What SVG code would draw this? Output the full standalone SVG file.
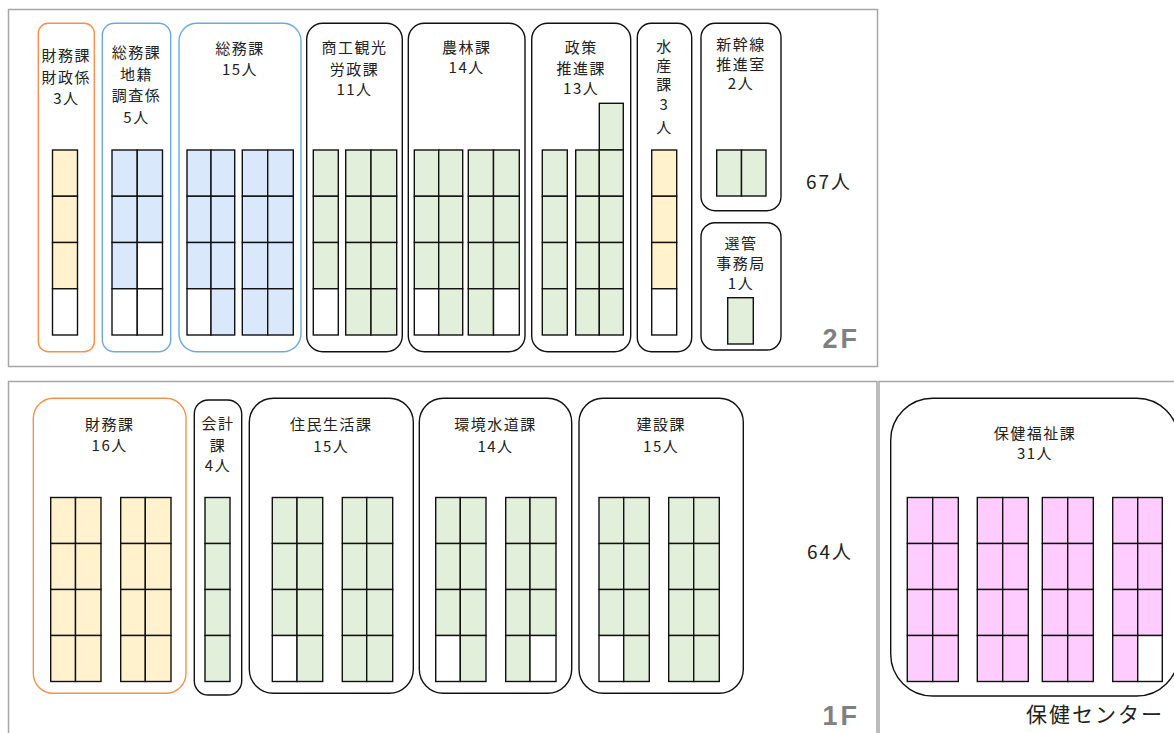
<svg xmlns="http://www.w3.org/2000/svg" width="1174" height="733" viewBox="0 0 1174 733">
<style>
.panel{fill:#fff;stroke:#a6a6a6;stroke-width:1.5}
.node{fill:#fff;stroke:#111;stroke-width:1.4}
.or{stroke:#f4924a}
.bl{stroke:#6fa8dc}
.d rect{stroke:#111;stroke-width:1.4}
.y{fill:#fff2cc}.b{fill:#dae8fc}.g{fill:#e2efda}.p{fill:#ffccff}.w{fill:#fff}
text{font-family:"Noto Sans CJK JP","Noto Sans",sans-serif;fill:#222;font-size:15px;text-anchor:middle;letter-spacing:1.5px}
.big{font-size:19px;letter-spacing:2px}
.fl{font-family:"Liberation Sans",Arial,sans-serif;font-weight:bold;font-size:27px;fill:#808080;text-anchor:end;letter-spacing:3px}
.hc{font-size:21px;text-anchor:start;letter-spacing:2px}
</style>
<rect width="1174" height="733" fill="#fff"/>
<g id="panel-2F">
<rect class="panel" x="8.5" y="9.5" width="869" height="357"/>
<text class="big" x="829" y="189">67人</text>
<text class="fl" x="860" y="348">2F</text>
</g>
<g id="panel-1F">
<rect class="panel" x="8.5" y="381.5" width="868.5" height="400"/>
<text class="big" x="830" y="559">64人</text>
<text class="fl" x="860" y="725">1F</text>
</g>
<g id="panel-hc">
<rect class="panel" x="879" y="381.5" width="320" height="400"/>
<text class="hc" x="1026" y="722">保健センター</text>
</g>
<g id="n-zaimu-zaisei">
<rect class="node or" x="38.3" y="23.3" width="56" height="328.4" rx="10"/>
<text x="66.3" y="61">財務課</text><text x="66.3" y="82.5">財政係</text><text x="66.3" y="103.5">3人</text>
<g class="d">
<rect class="y" x="52.5" y="150" width="25" height="46.25"/><rect class="y" x="52.5" y="196.25" width="25" height="46.25"/><rect class="y" x="52.5" y="242.5" width="25" height="46.25"/><rect class="w" x="52.5" y="288.75" width="25" height="46.25"/>
</g></g>
<g id="n-soumu-chiseki">
<rect class="node bl" x="102.3" y="23.3" width="68.4" height="328.4" rx="12"/>
<text x="136.5" y="57.5">総務課</text><text x="136.5" y="79.5">地籍</text><text x="136.5" y="101">調査係</text><text x="136.5" y="122.5">5人</text>
<g class="d">
<rect class="b" x="112" y="150" width="25.25" height="46.25"/><rect class="b" x="137.25" y="150" width="25.25" height="46.25"/>
<rect class="b" x="112" y="196.25" width="25.25" height="46.25"/><rect class="b" x="137.25" y="196.25" width="25.25" height="46.25"/>
<rect class="b" x="112" y="242.5" width="25.25" height="46.25"/><rect class="w" x="137.25" y="242.5" width="25.25" height="46.25"/>
<rect class="w" x="112" y="288.75" width="25.25" height="46.25"/><rect class="w" x="137.25" y="288.75" width="25.25" height="46.25"/>
</g></g>
<g id="n-soumu">
<rect class="node bl" x="179" y="23.3" width="122" height="328.4" rx="18"/>
<text x="240" y="54">総務課</text><text x="240" y="74.5">15人</text>
<g class="d">
<rect class="b" x="187" y="150" width="24" height="46.25"/><rect class="b" x="211" y="150" width="23.7" height="46.25"/>
<rect class="b" x="187" y="196.25" width="24" height="46.25"/><rect class="b" x="211" y="196.25" width="23.7" height="46.25"/>
<rect class="b" x="187" y="242.5" width="24" height="46.25"/><rect class="b" x="211" y="242.5" width="23.7" height="46.25"/>
<rect class="w" x="187" y="288.75" width="24" height="46.25"/><rect class="b" x="211" y="288.75" width="23.7" height="46.25"/>
<rect class="b" x="242.3" y="150" width="25.4" height="46.25"/><rect class="b" x="267.7" y="150" width="25.6" height="46.25"/>
<rect class="b" x="242.3" y="196.25" width="25.4" height="46.25"/><rect class="b" x="267.7" y="196.25" width="25.6" height="46.25"/>
<rect class="b" x="242.3" y="242.5" width="25.4" height="46.25"/><rect class="b" x="267.7" y="242.5" width="25.6" height="46.25"/>
<rect class="b" x="242.3" y="288.75" width="25.4" height="46.25"/><rect class="b" x="267.7" y="288.75" width="25.6" height="46.25"/>
</g></g>
<g id="n-shoko">
<rect class="node" x="306.7" y="23.3" width="95.6" height="328.4" rx="16"/>
<text x="354.5" y="53">商工観光</text><text x="354.5" y="74.5">労政課</text><text x="354.5" y="94.5">11人</text>
<g class="d">
<rect class="g" x="313.3" y="150" width="25" height="46.25"/><rect class="g" x="313.3" y="196.25" width="25" height="46.25"/><rect class="g" x="313.3" y="242.5" width="25" height="46.25"/><rect class="w" x="313.3" y="288.75" width="25" height="46.25"/>
<rect class="g" x="345.7" y="150" width="25.3" height="46.25"/><rect class="g" x="371" y="150" width="25.7" height="46.25"/>
<rect class="g" x="345.7" y="196.25" width="25.3" height="46.25"/><rect class="g" x="371" y="196.25" width="25.7" height="46.25"/>
<rect class="g" x="345.7" y="242.5" width="25.3" height="46.25"/><rect class="g" x="371" y="242.5" width="25.7" height="46.25"/>
<rect class="g" x="345.7" y="288.75" width="25.3" height="46.25"/><rect class="g" x="371" y="288.75" width="25.7" height="46.25"/>
</g></g>
<g id="n-norin">
<rect class="node" x="408.3" y="23.3" width="116.7" height="328.4" rx="16"/>
<text x="466.7" y="53">農林課</text><text x="466.7" y="73">14人</text>
<g class="d">
<rect class="g" x="414.3" y="150" width="24.4" height="46.25"/><rect class="g" x="438.7" y="150" width="24" height="46.25"/>
<rect class="g" x="414.3" y="196.25" width="24.4" height="46.25"/><rect class="g" x="438.7" y="196.25" width="24" height="46.25"/>
<rect class="g" x="414.3" y="242.5" width="24.4" height="46.25"/><rect class="g" x="438.7" y="242.5" width="24" height="46.25"/>
<rect class="w" x="414.3" y="288.75" width="24.4" height="46.25"/><rect class="g" x="438.7" y="288.75" width="24" height="46.25"/>
<rect class="g" x="468.3" y="150" width="25.2" height="46.25"/><rect class="g" x="493.5" y="150" width="25.8" height="46.25"/>
<rect class="g" x="468.3" y="196.25" width="25.2" height="46.25"/><rect class="g" x="493.5" y="196.25" width="25.8" height="46.25"/>
<rect class="g" x="468.3" y="242.5" width="25.2" height="46.25"/><rect class="g" x="493.5" y="242.5" width="25.8" height="46.25"/>
<rect class="g" x="468.3" y="288.75" width="25.2" height="46.25"/><rect class="w" x="493.5" y="288.75" width="25.8" height="46.25"/>
</g></g>
<g id="n-seisaku">
<rect class="node" x="531.7" y="23.3" width="99" height="328.4" rx="16"/>
<text x="581.2" y="53">政策</text><text x="581.2" y="74">推進課</text><text x="581.2" y="94">13人</text>
<g class="d">
<rect class="g" x="542.3" y="150" width="25" height="46.25"/><rect class="g" x="542.3" y="196.25" width="25" height="46.25"/><rect class="g" x="542.3" y="242.5" width="25" height="46.25"/><rect class="g" x="542.3" y="288.75" width="25" height="46.25"/>
<rect class="g" x="599.3" y="103.3" width="24" height="46.7"/>
<rect class="g" x="575.7" y="150" width="23.6" height="46.25"/><rect class="g" x="599.3" y="150" width="24" height="46.25"/>
<rect class="g" x="575.7" y="196.25" width="23.6" height="46.25"/><rect class="g" x="599.3" y="196.25" width="24" height="46.25"/>
<rect class="g" x="575.7" y="242.5" width="23.6" height="46.25"/><rect class="g" x="599.3" y="242.5" width="24" height="46.25"/>
<rect class="g" x="575.7" y="288.75" width="23.6" height="46.25"/><rect class="g" x="599.3" y="288.75" width="24" height="46.25"/>
</g></g>
<g id="n-suisan">
<rect class="node" x="637.3" y="23.3" width="54.4" height="328.4" rx="14"/>
<text x="664.5" y="52">水</text><text x="664.5" y="71">産</text><text x="664.5" y="90">課</text><text x="664.5" y="109.5">3</text><text x="664.5" y="133">人</text>
<g class="d">
<rect class="y" x="651.7" y="150" width="25" height="46.25"/><rect class="y" x="651.7" y="196.25" width="25" height="46.25"/><rect class="y" x="651.7" y="242.5" width="25" height="46.25"/><rect class="w" x="651.7" y="288.75" width="25" height="46.25"/>
</g></g>
<g id="n-shinkansen">
<rect class="node" x="701" y="23.3" width="80" height="187.4" rx="14"/>
<text x="741" y="49.5">新幹線</text><text x="741" y="69.5">推進室</text><text x="741" y="88.5">2人</text>
<g class="d">
<rect class="g" x="716.7" y="150" width="24.8" height="46"/><rect class="g" x="741.5" y="150" width="24.5" height="46"/>
</g></g>
<g id="n-senkan">
<rect class="node" x="701" y="222.7" width="80" height="127.3" rx="14"/>
<text x="741" y="248.5">選管</text><text x="741" y="268.5">事務局</text><text x="741" y="289">1人</text>
<g class="d"><rect class="g" x="727.7" y="297.7" width="25.6" height="46.3"/></g>
</g>
<g id="n-zaimu">
<rect class="node or" x="33.3" y="398.3" width="152.7" height="295" rx="20"/>
<text x="109.7" y="429.5">財務課</text><text x="109.7" y="450.5">16人</text>
<g class="d">
<rect class="y" x="50.7" y="497.5" width="24.8" height="46"/><rect class="y" x="75.5" y="497.5" width="25.5" height="46"/>
<rect class="y" x="50.7" y="543.5" width="24.8" height="46"/><rect class="y" x="75.5" y="543.5" width="25.5" height="46"/>
<rect class="y" x="50.7" y="589.5" width="24.8" height="46"/><rect class="y" x="75.5" y="589.5" width="25.5" height="46"/>
<rect class="y" x="50.7" y="635.5" width="24.8" height="46"/><rect class="y" x="75.5" y="635.5" width="25.5" height="46"/>
<rect class="y" x="120.7" y="497.5" width="24.6" height="46"/><rect class="y" x="145.3" y="497.5" width="25.7" height="46"/>
<rect class="y" x="120.7" y="543.5" width="24.6" height="46"/><rect class="y" x="145.3" y="543.5" width="25.7" height="46"/>
<rect class="y" x="120.7" y="589.5" width="24.6" height="46"/><rect class="y" x="145.3" y="589.5" width="25.7" height="46"/>
<rect class="y" x="120.7" y="635.5" width="24.6" height="46"/><rect class="y" x="145.3" y="635.5" width="25.7" height="46"/>
</g></g>
<g id="n-kaikei">
<rect class="node" x="194.3" y="400" width="47.4" height="295" rx="14"/>
<text x="218" y="428.5">会計</text><text x="218" y="451">課</text><text x="218" y="471">4人</text>
<g class="d">
<rect class="g" x="205" y="497.5" width="25" height="46"/><rect class="g" x="205" y="543.5" width="25" height="46"/><rect class="g" x="205" y="589.5" width="25" height="46"/><rect class="g" x="205" y="635.5" width="25" height="46"/>
</g></g>
<g id="n-jumin">
<rect class="node" x="249.3" y="398.3" width="164" height="295" rx="24"/>
<text x="331.3" y="430">住民生活課</text><text x="331.3" y="452">15人</text>
<g class="d">
<rect class="g" x="272.3" y="497.5" width="24.7" height="46"/><rect class="g" x="297" y="497.5" width="25.7" height="46"/>
<rect class="g" x="272.3" y="543.5" width="24.7" height="46"/><rect class="g" x="297" y="543.5" width="25.7" height="46"/>
<rect class="g" x="272.3" y="589.5" width="24.7" height="46"/><rect class="g" x="297" y="589.5" width="25.7" height="46"/>
<rect class="w" x="272.3" y="635.5" width="24.7" height="46"/><rect class="g" x="297" y="635.5" width="25.7" height="46"/>
<rect class="g" x="342.3" y="497.5" width="24.4" height="46"/><rect class="g" x="366.7" y="497.5" width="26" height="46"/>
<rect class="g" x="342.3" y="543.5" width="24.4" height="46"/><rect class="g" x="366.7" y="543.5" width="26" height="46"/>
<rect class="g" x="342.3" y="589.5" width="24.4" height="46"/><rect class="g" x="366.7" y="589.5" width="26" height="46"/>
<rect class="g" x="342.3" y="635.5" width="24.4" height="46"/><rect class="g" x="366.7" y="635.5" width="26" height="46"/>
</g></g>
<g id="n-kankyo">
<rect class="node" x="419.3" y="398.3" width="152.4" height="295" rx="24"/>
<text x="495.5" y="430">環境水道課</text><text x="495.5" y="452">14人</text>
<g class="d">
<rect class="g" x="435.7" y="497.5" width="24.6" height="46"/><rect class="g" x="460.3" y="497.5" width="25.7" height="46"/>
<rect class="g" x="435.7" y="543.5" width="24.6" height="46"/><rect class="g" x="460.3" y="543.5" width="25.7" height="46"/>
<rect class="g" x="435.7" y="589.5" width="24.6" height="46"/><rect class="g" x="460.3" y="589.5" width="25.7" height="46"/>
<rect class="w" x="435.7" y="635.5" width="24.6" height="46"/><rect class="g" x="460.3" y="635.5" width="25.7" height="46"/>
<rect class="g" x="505.7" y="497.5" width="24.3" height="46"/><rect class="g" x="530" y="497.5" width="26" height="46"/>
<rect class="g" x="505.7" y="543.5" width="24.3" height="46"/><rect class="g" x="530" y="543.5" width="26" height="46"/>
<rect class="g" x="505.7" y="589.5" width="24.3" height="46"/><rect class="g" x="530" y="589.5" width="26" height="46"/>
<rect class="g" x="505.7" y="635.5" width="24.3" height="46"/><rect class="w" x="530" y="635.5" width="26" height="46"/>
</g></g>
<g id="n-kensetsu">
<rect class="node" x="579" y="398.3" width="164.3" height="295" rx="24"/>
<text x="661.2" y="430">建設課</text><text x="661.2" y="452">15人</text>
<g class="d">
<rect class="g" x="599" y="497.5" width="24.7" height="46"/><rect class="g" x="623.7" y="497.5" width="25.6" height="46"/>
<rect class="g" x="599" y="543.5" width="24.7" height="46"/><rect class="g" x="623.7" y="543.5" width="25.6" height="46"/>
<rect class="g" x="599" y="589.5" width="24.7" height="46"/><rect class="g" x="623.7" y="589.5" width="25.6" height="46"/>
<rect class="w" x="599" y="635.5" width="24.7" height="46"/><rect class="g" x="623.7" y="635.5" width="25.6" height="46"/>
<rect class="g" x="668.7" y="497.5" width="25" height="46"/><rect class="g" x="693.7" y="497.5" width="25.6" height="46"/>
<rect class="g" x="668.7" y="543.5" width="25" height="46"/><rect class="g" x="693.7" y="543.5" width="25.6" height="46"/>
<rect class="g" x="668.7" y="589.5" width="25" height="46"/><rect class="g" x="693.7" y="589.5" width="25.6" height="46"/>
<rect class="g" x="668.7" y="635.5" width="25" height="46"/><rect class="g" x="693.7" y="635.5" width="25.6" height="46"/>
</g></g>
<g id="n-hoken">
<rect class="node" x="890.7" y="398.3" width="288" height="297.7" rx="42"/>
<text x="1035" y="438.5">保健福祉課</text><text x="1035" y="459">31人</text>
<g class="d">
<rect class="p" x="907.3" y="497.5" width="25.4" height="46"/><rect class="p" x="932.7" y="497.5" width="25.6" height="46"/>
<rect class="p" x="907.3" y="543.5" width="25.4" height="46"/><rect class="p" x="932.7" y="543.5" width="25.6" height="46"/>
<rect class="p" x="907.3" y="589.5" width="25.4" height="46"/><rect class="p" x="932.7" y="589.5" width="25.6" height="46"/>
<rect class="p" x="907.3" y="635.5" width="25.4" height="46"/><rect class="p" x="932.7" y="635.5" width="25.6" height="46"/>
<rect class="p" x="977.3" y="497.5" width="25.4" height="46"/><rect class="p" x="1002.7" y="497.5" width="25.6" height="46"/>
<rect class="p" x="977.3" y="543.5" width="25.4" height="46"/><rect class="p" x="1002.7" y="543.5" width="25.6" height="46"/>
<rect class="p" x="977.3" y="589.5" width="25.4" height="46"/><rect class="p" x="1002.7" y="589.5" width="25.6" height="46"/>
<rect class="p" x="977.3" y="635.5" width="25.4" height="46"/><rect class="p" x="1002.7" y="635.5" width="25.6" height="46"/>
<rect class="p" x="1042.3" y="497.5" width="25.4" height="46"/><rect class="p" x="1067.7" y="497.5" width="25.6" height="46"/>
<rect class="p" x="1042.3" y="543.5" width="25.4" height="46"/><rect class="p" x="1067.7" y="543.5" width="25.6" height="46"/>
<rect class="p" x="1042.3" y="589.5" width="25.4" height="46"/><rect class="p" x="1067.7" y="589.5" width="25.6" height="46"/>
<rect class="p" x="1042.3" y="635.5" width="25.4" height="46"/><rect class="p" x="1067.7" y="635.5" width="25.6" height="46"/>
<rect class="p" x="1112.7" y="497.5" width="25" height="46"/><rect class="p" x="1137.7" y="497.5" width="24.6" height="46"/>
<rect class="p" x="1112.7" y="543.5" width="25" height="46"/><rect class="p" x="1137.7" y="543.5" width="24.6" height="46"/>
<rect class="p" x="1112.7" y="589.5" width="25" height="46"/><rect class="p" x="1137.7" y="589.5" width="24.6" height="46"/>
<rect class="p" x="1112.7" y="635.5" width="25" height="46"/><rect class="w" x="1137.7" y="635.5" width="24.6" height="46"/>
</g></g>
<g id="connectors"></g>
</svg>
